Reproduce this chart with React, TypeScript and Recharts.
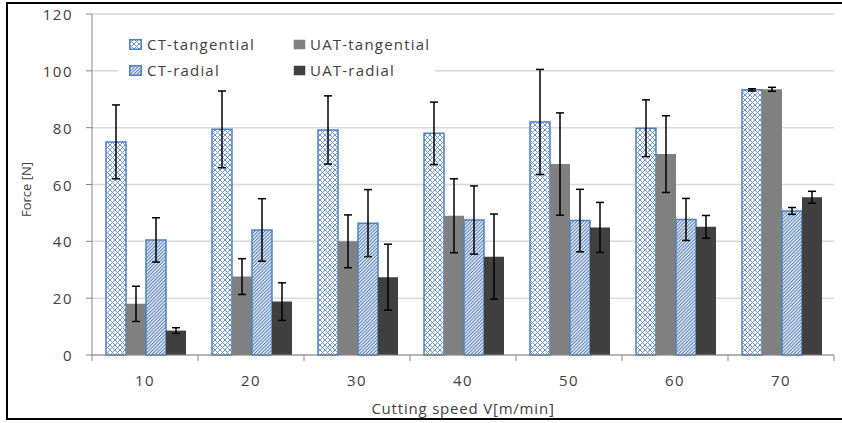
import React from 'react';
import { BarChart, Bar, XAxis, YAxis, CartesianGrid, ErrorBar, Legend } from 'recharts';

const speeds = ['10', '20', '30', '40', '50', '60', '70'];
const seriesNames = ['CT-tangential', 'UAT-tangential', 'CT-radial', 'UAT-radial'];
const yTicks = [0, 20, 40, 60, 80, 100, 120];

const ctTangential = [75, 79.4, 79.2, 78, 82, 79.8, 93.3];
const ctTangentialErr = [13, 13.5, 12, 11, 18.5, 10, 0.4];
const uatTangential = [18, 27.6, 40, 49, 67.2, 70.7, 93.5];
const uatTangentialErr = [6.2, 6.3, 9.3, 13, 18, 13.5, 0.7];
const ctRadial = [40.5, 44, 46.4, 47.5, 47.3, 47.7, 50.7];
const ctRadialErr = [7.8, 11, 11.8, 12, 11, 7.4, 1.2];
const uatRadial = [8.6, 18.8, 27.4, 34.6, 44.9, 45.1, 55.5];
const uatRadialErr = [1, 6.6, 11.6, 15, 8.8, 4, 2.1];

const data = speeds.map((s, i) => ({
  speed: s,
  ctT: ctTangential[i],
  ctTErr: ctTangentialErr[i],
  uatT: uatTangential[i],
  uatTErr: uatTangentialErr[i],
  ctR: ctRadial[i],
  ctRErr: ctRadialErr[i],
  uatR: uatRadial[i],
  uatRErr: uatRadialErr[i],
}));

const FONT = '"Open Sans", sans-serif';
const TEXT = '#404040';
const AXIS = '#868686';
const BLUE = '#4F81BD';

const W = 842;
const H = 423;
const PLOT_LEFT = 92;
const PLOT_RIGHT = 834;
const PLOT_TOP = 14;
const PLOT_BOTTOM = 355;
const X_AXIS_H = 50;
const X_TICK_MARGIN = 20;

const fills = ['url(#ctTan)', '#808080', 'url(#ctRad)', '#404040'];
const strokes = [BLUE, 'none', BLUE, 'none'];

const XTick = (props: any) => {
  const { x, y, payload, index } = props;
  const band = (PLOT_RIGHT - PLOT_LEFT) / speeds.length;
  const axisY = y - X_TICK_MARGIN;
  return (
    <g>
      {index === 0 && (
        <line x1={x - band / 2} x2={x - band / 2} y1={axisY} y2={axisY + 6} stroke={AXIS} strokeWidth={1} />
      )}
      <line x1={x + band / 2} x2={x + band / 2} y1={axisY} y2={axisY + 6} stroke={AXIS} strokeWidth={1} />
      <text
        x={x}
        y={y + 5}
        textAnchor="middle"
        dominantBaseline="central"
        fill={TEXT}
        fontFamily={FONT}
        fontSize={15}
        letterSpacing={1.5}
      >
        {payload.value}
      </text>
    </g>
  );
};

const YTick = (props: any) => {
  const { x, y, payload } = props;
  return (
    <text
      x={x}
      y={y}
      textAnchor="end"
      dominantBaseline="central"
      fill={TEXT}
      fontFamily={FONT}
      fontSize={15}
      letterSpacing={1.5}
    >
      {payload.value}
    </text>
  );
};

const YLabel = (props: any) => {
  const vb = props.viewBox || { x: 0, y: PLOT_TOP, width: 92, height: PLOT_BOTTOM - PLOT_TOP };
  const cx = vb.x + 26;
  const cy = vb.y + vb.height / 2 + 5;
  return (
    <text
      x={cx}
      y={cy}
      transform={`rotate(-90 ${cx} ${cy})`}
      textAnchor="middle"
      dominantBaseline="central"
      fill={TEXT}
      fontFamily={FONT}
      fontSize={13}
    >
      Force [N]
    </text>
  );
};

const XLabel = (props: any) => {
  const vb = props.viewBox || { x: PLOT_LEFT, y: PLOT_BOTTOM, width: PLOT_RIGHT - PLOT_LEFT, height: X_AXIS_H };
  return (
    <text
      x={vb.x + vb.width / 2}
      y={vb.y + 53}
      textAnchor="middle"
      dominantBaseline="central"
      fill={TEXT}
      fontFamily={FONT}
      fontSize={15}
      letterSpacing={0.8}
    >
      Cutting speed V[m/min]
    </text>
  );
};

const LegendContent = () => {
  const cols = [
    { marker: 11, text: 29 },
    { marker: 175, text: 192 },
  ];
  const rows = [16, 42];
  return (
    <div style={{ position: 'relative', width: 317, height: 58, background: '#fff' }}>
      {seriesNames.map((name, i) => {
        const c = cols[i % 2];
        const r = rows[Math.floor(i / 2)];
        return (
          <React.Fragment key={name}>
            <svg
              width={13}
              height={11}
              style={{ position: 'absolute', left: c.marker, top: r - 5.5 }}
            >
              <rect
                x={0.75}
                y={0.75}
                width={11.5}
                height={9.5}
                fill={fills[i]}
                stroke={strokes[i] === 'none' ? 'none' : strokes[i]}
                strokeWidth={1.5}
              />
            </svg>
            <span
              style={{
                position: 'absolute',
                left: c.text,
                top: r - 11,
                lineHeight: '22px',
                fontFamily: FONT,
                fontSize: 15,
                letterSpacing: 1.2,
                color: TEXT,
                whiteSpace: 'nowrap',
              }}
            >
              {name}
            </span>
          </React.Fragment>
        );
      })}
    </div>
  );
};

export default function App() {
  return (
    <div style={{ position: 'absolute', left: 0, top: 0, width: W, height: H, background: '#fff', overflow: 'hidden' }}>
      <div
        style={{
          position: 'absolute',
          left: 6,
          top: 2,
          width: 845,
          height: 418,
          border: '2px solid #000',
          boxSizing: 'border-box',
        }}
      />
      <BarChart
        width={W}
        height={H}
        data={data}
        margin={{ top: PLOT_TOP, right: W - PLOT_RIGHT, bottom: H - PLOT_BOTTOM - X_AXIS_H, left: 0 }}
        barCategoryGap={14}
        barGap={0}
      >
        <defs>
          <pattern id="ctTan" width="5" height="5" patternUnits="userSpaceOnUse">
            <rect width="5" height="5" fill="#fff" />
            <path d="M0,0 L5,5 M5,0 L0,5" stroke="#6f95c8" strokeWidth="1" />
          </pattern>
          <pattern id="ctRad" width="2.4" height="2.4" patternUnits="userSpaceOnUse" patternTransform="rotate(45)">
            <rect width="2.4" height="2.4" fill="#d9e1ee" />
            <line x1="0" y1="0" x2="0" y2="2.4" stroke="#4a78b0" strokeWidth="1.6" />
          </pattern>
        </defs>
        <CartesianGrid vertical={false} stroke="#d9d9d9" strokeWidth={1.5} />
        <XAxis
          dataKey="speed"
          height={X_AXIS_H}
          stroke={AXIS}
          tickLine={false}
          tickSize={0}
          tickMargin={X_TICK_MARGIN}
          tick={<XTick />}
          interval={0}
          label={(p: any) => <XLabel {...p} />}
        />
        <YAxis
          width={PLOT_LEFT}
          domain={[0, 120]}
          ticks={yTicks}
          stroke={AXIS}
          tickSize={6}
          tickMargin={13}
          tick={<YTick />}
          tickLine={{ stroke: AXIS }}
          label={(p: any) => <YLabel {...p} />}
        />
        <Legend
          layout="horizontal"
          verticalAlign="middle"
          align="center"
          wrapperStyle={{ left: 118, top: 28, width: 317, height: 58 }}
          content={() => <LegendContent />}
        />
        <Bar dataKey="ctT" name={seriesNames[0]} fill={fills[0]} stroke={BLUE} strokeWidth={1.5} isAnimationActive={false}>
          <ErrorBar dataKey="ctTErr" width={4} stroke="#000" strokeWidth={1.5} />
        </Bar>
        <Bar dataKey="uatT" name={seriesNames[1]} fill={fills[1]} isAnimationActive={false}>
          <ErrorBar dataKey="uatTErr" width={4} stroke="#000" strokeWidth={1.5} />
        </Bar>
        <Bar dataKey="ctR" name={seriesNames[2]} fill={fills[2]} stroke={BLUE} strokeWidth={1.5} isAnimationActive={false}>
          <ErrorBar dataKey="ctRErr" width={4} stroke="#000" strokeWidth={1.5} />
        </Bar>
        <Bar dataKey="uatR" name={seriesNames[3]} fill={fills[3]} isAnimationActive={false}>
          <ErrorBar dataKey="uatRErr" width={4} stroke="#000" strokeWidth={1.5} />
        </Bar>
      </BarChart>
    </div>
  );
}
